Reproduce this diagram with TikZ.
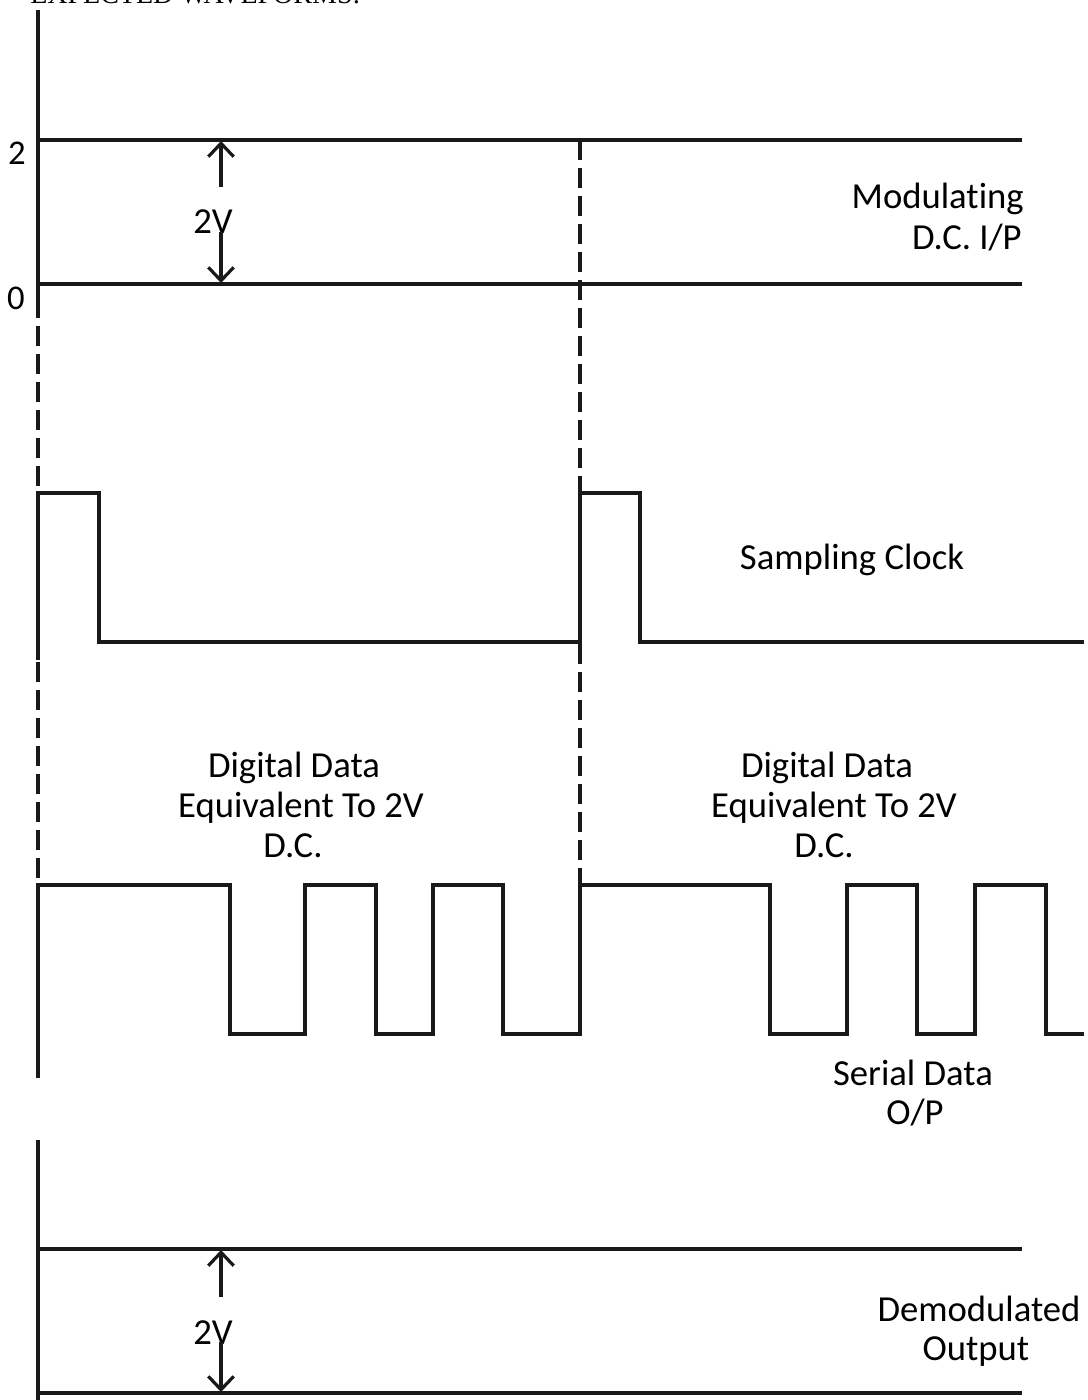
\documentclass[tikz,border=0pt]{standalone}
\usepackage{fontspec}
\setmainfont{Carlito}[Ligatures={NoCommon,NoContextual}]
\newfontfamily\ttitlefont{Liberation Serif}
\usetikzlibrary{arrows.meta}
\begin{document}
\begin{tikzpicture}[x=0.75pt,y=-0.75pt,
  wave/.style={draw=black!90,line width=2.4pt,line join=miter},
  dsh/.style={draw=black!90,line width=2.4pt,dash pattern=on 15pt off 6pt},
  lbl/.style={font=\fontsize{27.5}{30}\selectfont,inner sep=0pt,anchor=base},
  small/.style={font=\fontsize{26}{28}\selectfont,inner sep=0pt,anchor=base},
  dim/.style={draw=black!90,line width=2.4pt,-{Straight Barb[length=10pt,width=19pt]}}]
\useasboundingbox (0,0) rectangle (1088,1400);

% title (only its lower edge is visible, as in the reference)
\node[font=\fontsize{21}{21}\selectfont\ttitlefont,inner sep=0pt,anchor=base west] (title) at (30,3) {EXPECTED WAVEFORMS:};

% ---------- Modulating D.C. input ----------
\draw[wave] (38,10) -- (38,298);
\draw[dsh] (38,298) -- (38,885);
\draw[dsh] (580,140) -- (580,885);
\draw[wave] (38,140) -- (1022,140);
\draw[wave] (38,284) -- (1022,284);
\node[small] (l2) at (17,164) {2};
\node[small] (l0) at (16,309) {0};
\coordinate (ta1) at (221,187);
\coordinate (tt1) at (221,141);
\coordinate (ta2) at (221,232);
\coordinate (tt2) at (221,283);
\node[lbl] (v1) at (213,233) {2V};
\draw[dim] (ta1) -- (tt1);
\draw[dim] (ta2) -- (tt2);
\node[lbl,anchor=base east] (mod1) at (1024,208) {Modulating};
\node[lbl,anchor=base east] (mod2) at (1022,249) {D.C. I/P};

% ---------- Sampling clock ----------
\draw[wave] (38,660) -- (38,493) -- (99,493) -- (99,642) -- (580,642) -- (580,493)
  -- (640,493) -- (640,642) -- (1084,642);
\node[lbl] (clk) at (852,569) {Sampling Clock};

% ---------- Serial data ----------
\draw[wave] (38,1078) -- (38,885) -- (230,885) -- (230,1034) -- (305,1034) -- (305,885)
  -- (376,885) -- (376,1034) -- (433,1034) -- (433,885) -- (503,885) -- (503,1034)
  -- (580,1034) -- (580,885) -- (770,885) -- (770,1034) -- (847,1034) -- (847,885)
  -- (917,885) -- (917,1034) -- (975,1034) -- (975,885) -- (1046,885) -- (1046,1034)
  -- (1084,1034);
\node[lbl] (dd1a) at (294,777) {Digital Data};
\node[lbl] (dd1b) at (301,817) {Equivalent To 2V};
\node[lbl] (dd1c) at (293,857) {D.C.};
\node[lbl] (dd2a) at (827,777) {Digital Data};
\node[lbl] (dd2b) at (834,817) {Equivalent To 2V};
\node[lbl] (dd2c) at (824,857) {D.C.};
\node[lbl] (ser1) at (913,1085) {Serial Data};
\node[lbl] (ser2) at (915,1124) {O/P};

% ---------- Demodulated output ----------
\draw[wave] (38,1140) -- (38,1402);
\draw[wave] (38,1249) -- (1022,1249);
\draw[wave] (38,1393) -- (1022,1393);
\coordinate (ba1) at (221,1297);
\coordinate (bt1) at (221,1250);
\coordinate (ba2) at (221,1342);
\coordinate (bt2) at (221,1392);
\node[lbl] (v2) at (213,1344) {2V};
\draw[dim] (ba1) -- (bt1);
\draw[dim] (ba2) -- (bt2);
\node[lbl] (dem1) at (979,1321) {Demodulated};
\node[lbl] (dem2) at (976,1360) {Output};
\end{tikzpicture}
\end{document}
